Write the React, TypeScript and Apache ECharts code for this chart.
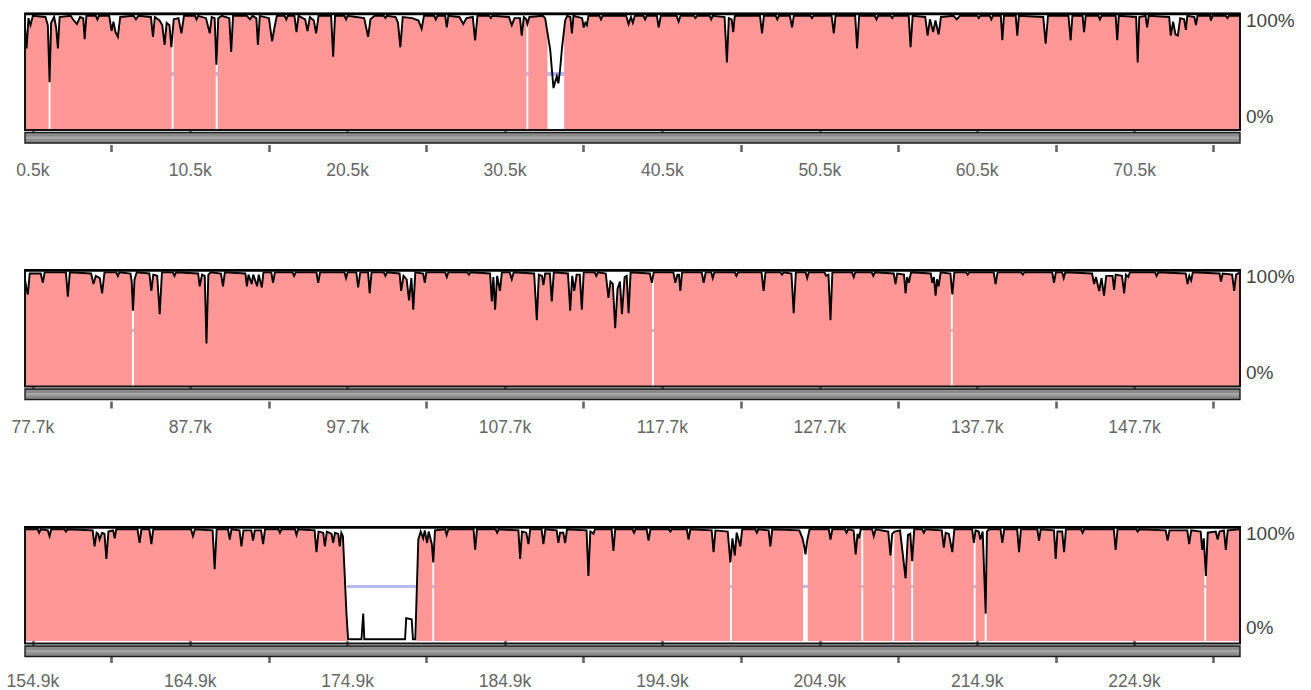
import { useEffect, useRef } from "react";
import * as echarts from "echarts";

// ---------- data (positions in kb, values in % identity) ----------
const PANEL_RANGES: [number, number][] = [
  [0, 77.2],
  [77.2, 154.4],
  [154.4, 231.6],
];

const MAJOR_TICKS_1 = [0.5, 10.5, 20.5, 30.5, 40.5, 50.5, 60.5, 70.5];
const MINOR_TICKS_1 = [5.5, 15.5, 25.5, 35.5, 45.5, 55.5, 65.5, 75.5];
const MAJOR_TICKS_2 = [77.7, 87.7, 97.7, 107.7, 117.7, 127.7, 137.7, 147.7];
const MINOR_TICKS_2 = [82.7, 92.7, 102.7, 112.7, 122.7, 132.7, 142.7, 152.7];
const MAJOR_TICKS_3 = [154.9, 164.9, 174.9, 184.9, 194.9, 204.9, 214.9, 224.9];
const MINOR_TICKS_3 = [159.9, 169.9, 179.9, 189.9, 199.9, 209.9, 219.9, 229.9];

const Y_LABELS = [0, 100];
const THRESHOLD = 48;

// unaligned (non-conserved) stretches
const GAPS_1: [number, number][] = [
  [1.5, 1.62], [9.32, 9.44], [12.12, 12.24], [31.86, 31.98], [33.2, 34.26],
];
const GAPS_2: [number, number][] = [
  [84.0, 84.12], [117.04, 117.16], [136.03, 136.15],
];
const GAPS_3: [number, number][] = [
  [174.86, 179.28], [180.28, 180.4], [199.2, 199.32], [203.84, 204.13],
  [207.54, 207.66], [209.51, 209.63], [210.71, 210.83], [214.68, 214.8],
  [215.38, 215.5], [229.33, 229.45],
];

const CURVE_1: [number, number][] = [
  [0.0, 88], [0.1, 70], [0.22, 96], [0.35, 90], [0.5, 98],
  [1.3, 97], [1.45, 90], [1.56, 41], [1.66, 92], [1.85, 97], [1.98, 88], [2.09, 70], [2.2, 97],
  [2.9, 98], [3.1, 94], [3.3, 91], [3.5, 97], [3.7, 96], [3.79, 78], [3.9, 98],
  [4.5, 98], [4.6, 95], [4.7, 98],
  [5.35, 98], [5.5, 85], [5.62, 93], [5.75, 84], [5.9, 80], [6.05, 97],
  [6.9, 98], [7.05, 95], [7.2, 98],
  [8.0, 97], [8.13, 80], [8.25, 97], [8.55, 94], [8.72, 90], [8.87, 73], [9.0, 92], [9.18, 90], [9.3, 71], [9.45, 95], [9.75, 96], [9.94, 83], [10.1, 98],
  [10.8, 98], [10.9, 95], [11.0, 98],
  [11.5, 96], [11.74, 83], [11.86, 97], [12.05, 96], [12.16, 56], [12.28, 96], [12.5, 98], [12.98, 96], [13.1, 67], [13.22, 98],
  [14.1, 98], [14.3, 95], [14.45, 98], [14.7, 96], [14.8, 73], [14.92, 98], [15.5, 96], [15.7, 76], [15.85, 88], [16.0, 98],
  [16.5, 98], [16.6, 95], [16.7, 98],
  [17.12, 98], [17.25, 84], [17.38, 98], [17.8, 95], [17.95, 85], [18.1, 97], [18.35, 94], [18.5, 83], [18.65, 98],
  [19.45, 98], [19.58, 63], [19.7, 98],
  [20.3, 98], [20.4, 95], [20.5, 98],
  [21.55, 96], [21.8, 80], [21.95, 95], [22.2, 98],
  [22.8, 98], [22.9, 96], [23.0, 98],
  [23.55, 97], [23.7, 92], [23.85, 71], [24.0, 97], [24.6, 96], [25.0, 94], [25.2, 87], [25.35, 98],
  [26.0, 98], [26.1, 95], [26.2, 98],
  [26.7, 98], [26.8, 88], [26.9, 98], [27.6, 97], [27.85, 91], [28.05, 96], [28.45, 97], [28.6, 77], [28.75, 98],
  [29.5, 98], [29.6, 96], [29.7, 98],
  [30.75, 97], [30.93, 90], [31.1, 96], [31.45, 96], [31.56, 81], [31.7, 97], [31.85, 95], [31.92, 91], [32.05, 97],
  [32.9, 98], [33.05, 96], [33.37, 69], [33.58, 36], [33.68, 41], [33.79, 46], [33.89, 40], [34.0, 52], [34.11, 69], [34.32, 94], [34.45, 98],
  [34.65, 97], [34.75, 83], [34.85, 98], [35.4, 96], [35.5, 88], [35.6, 92], [35.7, 90], [35.8, 98],
  [36.5, 98], [36.6, 95], [36.7, 98],
  [38.2, 98], [38.35, 91], [38.5, 97], [38.62, 92], [38.75, 98],
  [39.3, 98], [39.4, 95], [39.5, 98],
  [40.15, 98], [40.26, 88], [40.4, 98], [41.4, 98], [41.53, 93], [41.65, 98],
  [42.5, 98], [42.6, 96], [42.7, 98], [43.5, 98], [43.6, 95], [43.7, 98],
  [44.45, 97], [44.6, 58], [44.72, 96], [44.9, 95], [45.0, 84], [45.1, 98],
  [46.7, 98], [46.83, 83], [46.95, 98], [47.7, 98], [47.8, 95], [47.9, 98], [48.6, 98], [48.74, 88], [48.85, 98],
  [49.9, 98], [50.0, 96], [50.1, 98],
  [51.25, 98], [51.39, 83], [51.5, 98], [52.75, 98], [52.87, 70], [53.0, 98],
  [54.0, 98], [54.1, 95], [54.2, 98], [55.0, 98], [55.1, 96], [55.2, 98],
  [56.15, 98], [56.27, 71], [56.4, 98], [57.2, 97], [57.35, 81], [57.5, 95], [57.7, 84], [57.85, 94], [58.05, 82], [58.2, 97],
  [59.0, 98], [59.2, 95], [59.4, 98],
  [60.5, 98], [60.6, 96], [60.7, 98], [61.3, 98], [61.4, 95], [61.5, 98],
  [62.0, 98], [62.1, 77], [62.2, 98], [62.95, 98], [63.05, 81], [63.15, 98],
  [64.7, 97], [64.85, 74], [65.0, 98], [66.3, 98], [66.44, 77], [66.55, 98], [67.2, 98], [67.29, 84], [67.4, 98],
  [68.2, 98], [68.3, 95], [68.4, 98],
  [69.3, 98], [69.4, 77], [69.5, 98], [70.6, 97], [70.7, 58], [70.8, 97], [71.2, 98], [71.3, 88], [71.4, 98],
  [72.7, 97], [72.8, 81], [72.95, 93], [73.1, 82], [73.25, 81], [73.4, 96], [73.65, 95], [73.76, 86], [73.85, 98], [74.3, 97], [74.4, 90], [74.5, 98], [75.3, 98], [75.35, 94], [75.45, 98],
  [76.3, 98], [76.4, 96], [76.5, 98], [77.2, 98],
];

const CURVE_2: [number, number][] = [
  [77.2, 92], [77.3, 84], [77.38, 79], [77.5, 97], [78.2, 97], [78.33, 89], [78.45, 98],
  [79.8, 98], [79.92, 77], [80.05, 98],
  [81.4, 97], [81.55, 88], [81.7, 95], [81.95, 93], [82.1, 80], [82.25, 98],
  [83.0, 98], [83.1, 95], [83.2, 98],
  [83.9, 97], [83.98, 90], [84.06, 65], [84.16, 92], [84.3, 98],
  [85.1, 97], [85.23, 82], [85.35, 96], [85.6, 95], [85.76, 62], [85.9, 98],
  [86.6, 98], [86.7, 95], [86.8, 98],
  [88.2, 97], [88.3, 86], [88.45, 96], [88.62, 95], [88.73, 37], [88.85, 96], [89.0, 98],
  [89.65, 97], [89.78, 86], [89.9, 98],
  [91.2, 97], [91.3, 86], [91.4, 96], [91.6, 88], [91.7, 96], [91.95, 86], [92.05, 96], [92.25, 85], [92.35, 98],
  [92.85, 98], [92.96, 89], [93.08, 98],
  [94.2, 98], [94.3, 95], [94.4, 98],
  [95.72, 98], [95.83, 89], [95.95, 98],
  [97.5, 98], [97.6, 93], [97.7, 98], [98.25, 98], [98.37, 85], [98.5, 98], [99.0, 98], [99.1, 80], [99.22, 98],
  [100.0, 98], [100.1, 95], [100.2, 98],
  [101.0, 97], [101.1, 82], [101.25, 95], [101.45, 92], [101.6, 74], [101.75, 93], [101.87, 66], [102.0, 98],
  [102.5, 97], [102.6, 89], [102.7, 98],
  [103.9, 98], [104.0, 94], [104.1, 98],
  [105.3, 98], [105.4, 96], [105.5, 98],
  [106.75, 97], [106.86, 73], [106.96, 94], [107.07, 66], [107.2, 95], [107.38, 82], [107.5, 98],
  [108.0, 98], [108.13, 92], [108.25, 98],
  [109.55, 97], [109.72, 57], [109.85, 96], [110.05, 95], [110.14, 87], [110.25, 97], [110.55, 97], [110.67, 73], [110.8, 98],
  [111.7, 97], [111.84, 65], [111.97, 95], [112.1, 82], [112.25, 96], [112.45, 96], [112.58, 66], [112.7, 98],
  [113.4, 98], [113.5, 95], [113.6, 98],
  [114.1, 97], [114.27, 76], [114.4, 90], [114.55, 88], [114.7, 50], [114.85, 84], [115.0, 90], [115.13, 62], [115.3, 94], [115.43, 95], [115.55, 63], [115.68, 98],
  [116.9, 97], [117.03, 89], [117.15, 98],
  [118.4, 98], [118.52, 89], [118.65, 96], [118.75, 96], [118.84, 82], [118.95, 98],
  [120.2, 98], [120.32, 89], [120.45, 98], [120.8, 98], [120.9, 93], [121.0, 98],
  [122.3, 98], [122.4, 95], [122.5, 98],
  [124.0, 98], [124.13, 82], [124.25, 98],
  [125.2, 98], [125.3, 96], [125.4, 98],
  [125.9, 97], [126.04, 63], [126.18, 98], [126.8, 98], [126.9, 93], [127.0, 98],
  [128.0, 98], [128.1, 95], [128.25, 96], [128.38, 57], [128.5, 98],
  [129.75, 98], [129.86, 94], [129.95, 98],
  [131.0, 98], [131.1, 95], [131.2, 98],
  [132.4, 97], [132.51, 88], [132.62, 97], [133.05, 96], [133.15, 80], [133.25, 94], [133.36, 89], [133.5, 98],
  [134.75, 97], [134.85, 89], [134.95, 94], [135.06, 78], [135.15, 92], [135.25, 86], [135.38, 98],
  [136.0, 97], [136.12, 79], [136.25, 98],
  [137.0, 98], [137.1, 96], [137.2, 98],
  [138.75, 98], [138.87, 88], [139.0, 98],
  [140.5, 98], [140.6, 96], [140.7, 98],
  [142.47, 98], [142.58, 89], [142.7, 98], [143.1, 98], [143.2, 93], [143.3, 98],
  [145.0, 97], [145.13, 88], [145.25, 94], [145.45, 82], [145.6, 93], [145.76, 78], [145.9, 95], [146.3, 95], [146.4, 83], [146.5, 96], [146.9, 95], [147.04, 80], [147.15, 96], [147.3, 94], [147.4, 98],
  [149.0, 98], [149.1, 95], [149.2, 98],
  [150.95, 97], [151.07, 88], [151.18, 95], [151.3, 91], [151.4, 98],
  [153.1, 97], [153.19, 90], [153.3, 97], [153.9, 96], [154.03, 82], [154.15, 96], [154.4, 98],
];

const CURVE_3: [number, number][] = [
  [154.4, 98], [155.2, 98], [155.3, 95], [155.4, 98],
  [155.85, 97], [155.96, 92], [156.07, 98],
  [156.9, 98], [157.0, 96], [157.1, 98],
  [158.7, 97], [158.82, 83], [158.95, 95], [159.05, 94], [159.14, 89], [159.3, 95], [159.45, 94], [159.57, 72], [159.7, 96], [160.0, 97], [160.1, 90], [160.2, 98],
  [161.55, 98], [161.68, 86], [161.8, 98], [162.3, 98], [162.43, 85], [162.55, 98],
  [164.95, 98], [165.07, 92], [165.2, 98],
  [166.32, 97], [166.45, 63], [166.58, 98],
  [167.3, 98], [167.41, 89], [167.52, 98], [168.03, 97], [168.15, 83], [168.28, 97], [168.78, 97], [168.89, 88], [169.0, 97], [169.4, 97], [169.53, 85], [169.65, 98],
  [170.5, 98], [170.6, 95], [170.7, 98],
  [171.55, 98], [171.65, 93], [171.75, 98],
  [172.8, 97], [172.92, 78], [173.05, 96], [173.35, 95], [173.45, 83], [173.58, 96], [173.88, 94], [173.98, 86], [174.1, 95], [174.3, 94], [174.4, 83], [174.5, 95], [174.6, 92], [174.83, 23], [174.93, 1.5],
  [175.78, 1.5], [175.89, 24], [175.96, 1.5],
  [178.55, 1.5], [178.62, 20], [178.97, 19], [179.05, 1.5], [179.2, 1.5], [179.39, 89], [179.54, 96], [179.7, 90], [179.8, 97], [179.95, 86], [180.05, 96], [180.25, 85], [180.34, 69], [180.45, 97],
  [181.1, 98], [181.19, 93], [181.3, 98],
  [182.9, 98], [183.0, 80], [183.12, 98],
  [184.3, 98], [184.4, 95], [184.5, 98],
  [185.75, 97], [185.86, 72], [185.98, 96], [186.25, 95], [186.39, 85], [186.5, 98],
  [187.22, 98], [187.34, 85], [187.46, 98], [188.18, 97], [188.29, 86], [188.4, 95], [188.6, 95], [188.72, 86], [188.84, 98],
  [190.08, 97], [190.2, 57], [190.32, 96], [190.45, 95], [190.52, 94], [190.62, 98],
  [191.67, 98], [191.79, 79], [191.9, 98],
  [193.0, 98], [193.1, 95], [193.2, 98],
  [193.9, 98], [194.02, 88], [194.14, 98],
  [195.3, 98], [195.4, 96], [195.5, 98],
  [196.45, 98], [196.56, 89], [196.68, 98],
  [198.03, 97], [198.15, 78], [198.27, 97],
  [199.05, 96], [199.22, 69], [199.35, 90], [199.5, 75], [199.62, 95], [199.85, 83], [199.97, 98],
  [200.8, 98], [200.9, 95], [201.0, 98],
  [201.65, 97], [201.76, 83], [201.88, 98],
  [203.6, 97], [203.8, 90], [203.9, 84], [203.99, 76], [204.1, 88], [204.25, 98],
  [205.47, 98], [205.58, 89], [205.7, 98],
  [206.5, 98], [206.6, 95], [206.7, 98],
  [207.05, 97], [207.18, 76], [207.3, 94], [207.4, 90], [207.5, 98],
  [208.22, 98], [208.33, 92], [208.45, 98],
  [209.25, 96], [209.39, 75], [209.5, 94], [209.65, 96], [210.0, 97], [210.35, 55], [210.5, 93], [210.65, 94], [210.77, 70], [210.9, 98],
  [211.4, 98], [211.51, 95], [211.62, 98],
  [212.65, 97], [212.78, 82], [212.9, 95], [213.1, 94], [213.32, 78], [213.45, 98],
  [214.58, 98], [214.69, 86], [214.8, 97], [215.0, 96], [215.1, 89], [215.25, 96], [215.44, 24], [215.52, 96], [215.65, 98],
  [216.38, 98], [216.5, 86], [216.62, 98],
  [217.44, 98], [217.56, 78], [217.68, 98],
  [218.72, 98], [218.83, 88], [218.94, 98],
  [219.78, 97], [219.89, 72], [220.0, 96], [220.3, 96], [220.42, 78], [220.54, 98],
  [221.5, 98], [221.6, 95], [221.7, 98],
  [223.58, 98], [223.7, 80], [223.82, 98],
  [225.0, 98], [225.1, 96], [225.2, 98],
  [226.88, 97], [227.0, 88], [227.12, 97], [228.25, 97], [228.37, 85], [228.5, 97], [229.1, 96], [229.2, 80], [229.3, 90], [229.43, 57], [229.55, 95], [230.06, 96], [230.18, 89], [230.3, 96], [230.58, 97], [230.7, 80], [230.82, 97], [231.6, 98],
];

const MAJOR_TICKS = [MAJOR_TICKS_1, MAJOR_TICKS_2, MAJOR_TICKS_3];
const MINOR_TICKS = [MINOR_TICKS_1, MINOR_TICKS_2, MINOR_TICKS_3];
const GAPS = [GAPS_1, GAPS_2, GAPS_3];
const CURVES = [CURVE_1, CURVE_2, CURVE_3];

// ---------- style / layout ----------
const PINK = "#ff9797";
const LAVENDER = "#b9b9f2";
const FONT = 'Arial, "Liberation Sans", Helvetica, sans-serif';
const LEFT = 25;
const PLOT_W = 1215;
const GRID_TOPS = [13.5, 270, 527];
const GRID_H = 116.5;

function gapSteps(gaps: [number, number][], range: [number, number]) {
  const pts: [number, number][] = [[range[0], 0]];
  gaps.forEach(([a, b]) => {
    pts.push([a, 100]);
    pts.push([b, 0]);
  });
  pts.push([range[1], 0]);
  return pts;
}

function buildOption(): echarts.EChartsOption {
  const grid: any[] = [];
  const xAxis: any[] = [];
  const yAxis: any[] = [];
  const series: any[] = [];
  const graphic: any[] = [];

  const bandTop = (100 - THRESHOLD - 1.4) / 100;
  const bandBot = (100 - THRESHOLD + 1.4) / 100;

  PANEL_RANGES.forEach((range, i) => {
    const top = GRID_TOPS[i];
    const bottom = top + GRID_H;
    grid.push({
      left: LEFT,
      top,
      width: PLOT_W,
      height: GRID_H,
      show: false,
    });
    // major ticks + labels
    xAxis.push({
      type: "value",
      gridIndex: i,
      min: range[0],
      max: range[1],
      position: "bottom",
      offset: 15,
      axisLine: { show: false },
      splitLine: { show: false },
      axisTick: {
        show: true,
        customValues: MAJOR_TICKS[i],
        length: 10,
        lineStyle: { color: "#666", width: 2.6 },
      },
      axisLabel: {
        show: true,
        customValues: MAJOR_TICKS[i],
        formatter: (v: number) => `${v}k`,
        color: "#666",
        fontSize: 17.5,
        fontFamily: FONT,
        margin: 16,
      },
    });
    // minor ticks
    xAxis.push({
      type: "value",
      gridIndex: i,
      min: range[0],
      max: range[1],
      position: "bottom",
      offset: 15,
      axisLine: { show: false },
      splitLine: { show: false },
      axisTick: {
        show: true,
        customValues: MINOR_TICKS[i],
        length: 7,
        lineStyle: { color: "#666", width: 2.6 },
      },
      axisLabel: { show: false },
    });
    yAxis.push({
      type: "value",
      gridIndex: i,
      min: 0,
      max: 100,
      position: "right",
      axisLine: { show: false },
      axisTick: { show: false },
      splitLine: { show: false },
      axisLabel: {
        show: true,
        customValues: Y_LABELS,
        margin: 6,
        formatter: (v: number) => (v === 100 ? "{t|100%}" : "{b|0%}"),
        rich: {
          t: { fontSize: 19, fontFamily: FONT, color: "#444", padding: [13, 0, 0, 0] },
          b: { fontSize: 19, fontFamily: FONT, color: "#444", padding: [0, 0, 28, 0] },
        },
      },
    });

    const xi = i * 2;
    series.push({
      type: "line",
      xAxisIndex: xi,
      yAxisIndex: i,
      data: CURVES[i],
      showSymbol: false,
      silent: true,
      z: 1,
      lineStyle: { width: 0, opacity: 0 },
      areaStyle: { color: PINK, opacity: 1, origin: "start" },
    });
    series.push({
      type: "line",
      xAxisIndex: xi,
      yAxisIndex: i,
      step: "end",
      data: gapSteps(GAPS[i], range),
      showSymbol: false,
      silent: true,
      z: 2,
      lineStyle: { width: 0, opacity: 0 },
      areaStyle: {
        opacity: 1,
        origin: "start",
        color: {
          type: "linear",
          x: 0,
          y: 0,
          x2: 0,
          y2: 1,
          colorStops: [
            { offset: 0, color: "#ffffff" },
            { offset: bandTop, color: "#ffffff" },
            { offset: bandTop, color: LAVENDER },
            { offset: bandBot, color: LAVENDER },
            { offset: bandBot, color: "#ffffff" },
            { offset: 1, color: "#ffffff" },
          ],
        },
      },
    });
    series.push({
      type: "line",
      xAxisIndex: xi,
      yAxisIndex: i,
      data: CURVES[i],
      showSymbol: false,
      silent: true,
      z: 3,
      lineStyle: { color: "#000", width: 1.9, join: "miter" },
    });

    // plot frame drawn above the fills
    graphic.push({
      type: "rect",
      z: 12,
      silent: true,
      shape: { x: LEFT, y: top, width: PLOT_W, height: GRID_H },
      style: { fill: "none", stroke: "#111", lineWidth: 2 },
    });
    graphic.push({
      type: "line",
      z: 12,
      silent: true,
      shape: { x1: LEFT, y1: top + 0.5, x2: LEFT + PLOT_W, y2: top + 0.5 },
      style: { stroke: "#000", lineWidth: 2.5 },
    });
    // grey annotation bar under each panel
    graphic.push({
      type: "rect",
      z: 10,
      silent: true,
      shape: { x: LEFT, y: bottom + 2.5, width: PLOT_W, height: 10.5 },
      style: { fill: "#8a8a8a", stroke: "#1a1a1a", lineWidth: 1.4 },
    });
    graphic.push({
      type: "rect",
      z: 11,
      silent: true,
      shape: { x: LEFT + 1, y: bottom + 6.5, width: PLOT_W - 2, height: 2.5 },
      style: { fill: "#a6a6a6" },
    });
  });

  return {
    animation: false,
    backgroundColor: "#ffffff",
    grid,
    xAxis,
    yAxis,
    series,
    graphic,
  };
}

export default function App() {
  const ref = useRef<HTMLDivElement>(null);
  useEffect(() => {
    if (!ref.current) return;
    const chart = echarts.init(ref.current, null, { renderer: "svg" });
    chart.setOption(buildOption());
    return () => chart.dispose();
  }, []);
  return (
    <div
      ref={ref}
      style={{ position: "fixed", left: 0, top: 0, width: 1311, height: 690, background: "#fff" }}
    />
  );
}
